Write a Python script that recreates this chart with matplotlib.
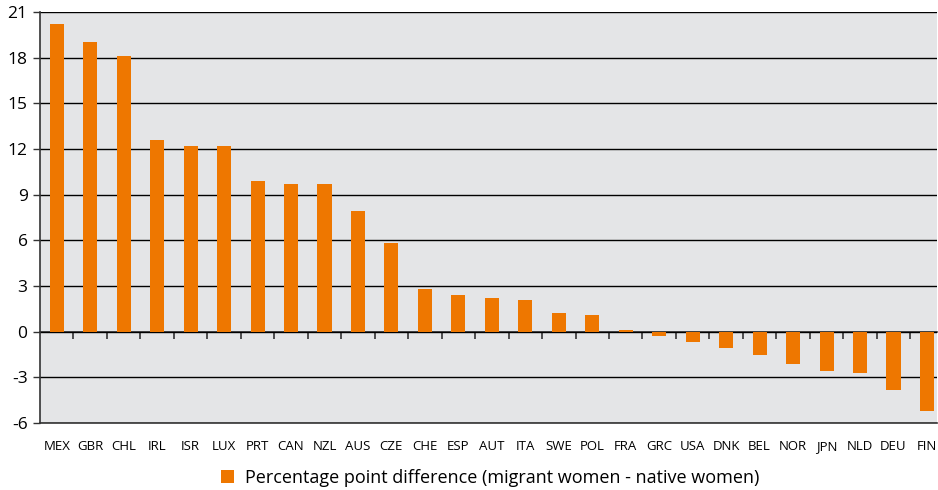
import matplotlib
matplotlib.use("Agg")
import matplotlib.pyplot as plt
from matplotlib.patches import Patch

countries = ["MEX", "GBR", "CHL", "IRL", "ISR", "LUX", "PRT", "CAN", "NZL", "AUS",
             "CZE", "CHE", "ESP", "AUT", "ITA", "SWE", "POL", "FRA", "GRC", "USA",
             "DNK", "BEL", "NOR", "JPN", "NLD", "DEU", "FIN"]
values = [20.2, 19.0, 18.1, 12.6, 12.2, 12.2, 9.9, 9.7, 9.7, 7.9,
          5.8, 2.8, 2.4, 2.2, 2.1, 1.2, 1.1, 0.1, -0.3, -0.7,
          -1.05, -1.5, -2.1, -2.6, -2.7, -3.8, -5.2]
yticks = [-6, -3, 0, 3, 6, 9, 12, 15, 18, 21]
legend_label = "Percentage point difference (migrant women - native women)"

plt.rcParams['font.family'] = ['Open Sans', 'DejaVu Sans']

W, H = 938, 490
fig = plt.figure(figsize=(W / 100, H / 100), dpi=100)
ax = fig.add_axes([40 / W, 1 - 423 / H, (W - 41) / W, (423 - 12) / H])
ax.set_facecolor('#E4E5E7')

x = list(range(len(countries)))
ax.bar(x, values, width=0.42, color='#EE7700', zorder=3)

ax.set_ylim(-6, 21)
ax.set_xlim(-0.5, 26.3)
ax.set_yticks(yticks)
ax.set_yticklabels([str(v) for v in yticks], fontsize=12.5)
ax.yaxis.grid(True, color='black', linewidth=1.0, zorder=1)
ax.set_axisbelow(True)
ax.tick_params(axis='y', length=5, width=1, color='#333333', pad=4)

ax.set_xticks(x)
ax.set_xticklabels(countries, fontsize=9.5)
ax.tick_params(axis='x', length=0, pad=12)

for s in ['top', 'right']:
    ax.spines[s].set_visible(False)
ax.spines['left'].set_color('#333333')
ax.spines['left'].set_linewidth(1.2)
ax.spines['bottom'].set_color('#333333')
ax.spines['bottom'].set_linewidth(1.2)

# zero axis with category-boundary tick marks
zero_frac = (0 - (-6)) / (21 - (-6))
sec = ax.secondary_xaxis(zero_frac)
sec.set_xticks([i + 0.5 for i in range(len(countries))])
sec.set_xticklabels([])
sec.tick_params(axis='x', direction='out', length=5, width=1.2, color='#333333')
sec.spines['bottom'].set_color('#333333')
sec.spines['bottom'].set_linewidth(1.2)

handle = Patch(facecolor='#EE7700', edgecolor='none')
fig.legend([handle], [legend_label], loc='center', bbox_to_anchor=(490 / W, 1 - 478 / H),
           frameon=False, fontsize=13, handlelength=0.7, handleheight=0.7, handletextpad=0.6)

fig.savefig('out.png', dpi=100)
